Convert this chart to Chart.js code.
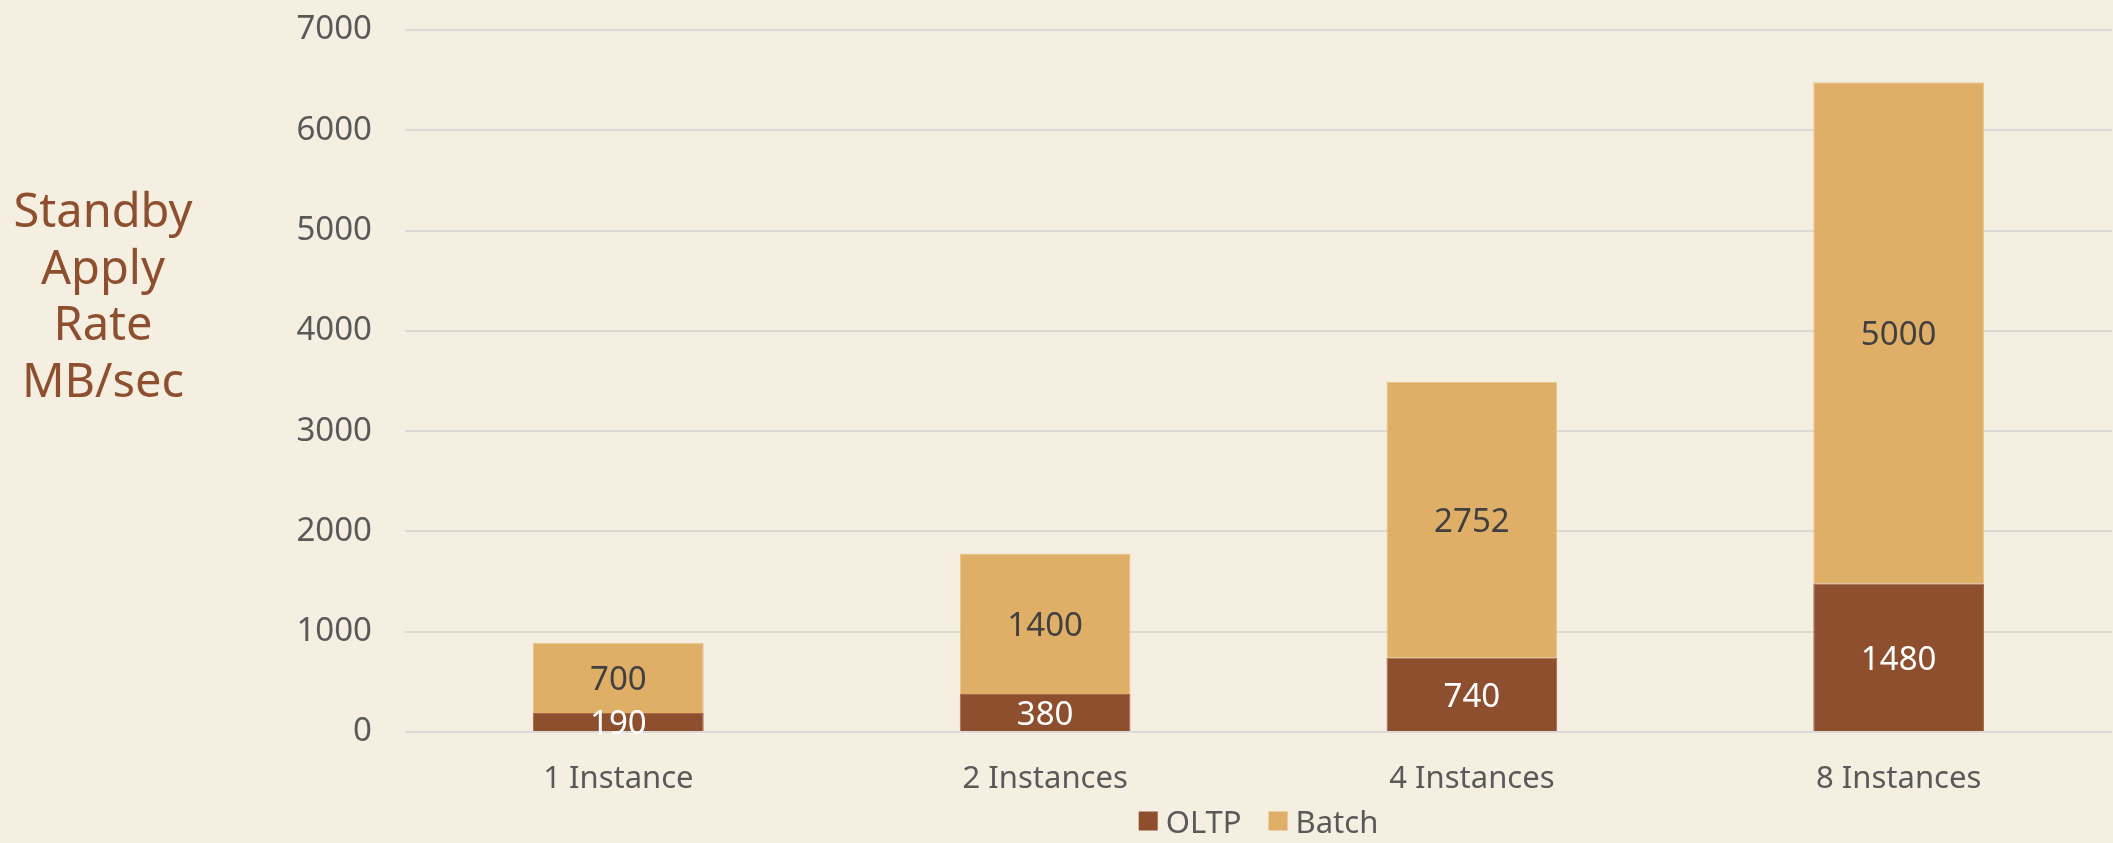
<!DOCTYPE html>
<html>
<head>
<meta charset="utf-8">
<script src="https://cdn.jsdelivr.net/npm/chart.js@4/dist/chart.umd.min.js"></script>
<style>
  html, body { margin: 0; padding: 0; background: #F5EFE2; }
  #wrap { width: 2113px; height: 843px; position: relative; }
</style>
</head>
<body>
<div id="wrap"><canvas id="c" width="2113" height="843"></canvas></div>
<script>
// Standby apply rate per instance count, stacked by workload
const categories = ['1 Instance', '2 Instances', '4 Instances', '8 Instances'];
const oltpValues = [190, 380, 740, 1480];
const batchValues = [700, 1400, 2752, 5000];
const axisTitleLines = ['Standby', 'Apply', 'Rate', 'MB/sec'];
const yMax = 7000;
const yStep = 1000;

const BG = '#F5EFE2';
const OLTP_COLOR = '#8D4F2E';
const BATCH_COLOR = '#DFAF67';
const TEXT_GREY = '#595959';
const FONT = '"Noto Sans", "Open Sans", sans-serif';

// Paints the page colour behind the chart
const backgroundPlugin = {
  id: 'bg',
  beforeDraw(chart) {
    const ctx = chart.ctx;
    ctx.save();
    ctx.fillStyle = BG;
    ctx.fillRect(0, 0, chart.width, chart.height);
    ctx.restore();
  }
};

// Horizontal, multi-line value axis title on the left
const axisTitlePlugin = {
  id: 'axisTitle',
  afterDraw(chart) {
    const ctx = chart.ctx;
    ctx.save();
    ctx.fillStyle = OLTP_COLOR;
    ctx.font = '47px ' + FONT;
    ctx.textAlign = 'center';
    ctx.textBaseline = 'alphabetic';
    const x = 103, firstBaseline = 227, lineGap = 56.7;
    axisTitleLines.forEach((t, i) => ctx.fillText(t, x, firstBaseline + i * lineGap));
    ctx.restore();
  }
};

// Value labels centred inside each stacked segment
const segmentLabelPlugin = {
  id: 'segmentLabels',
  afterDatasetsDraw(chart) {
    const ctx = chart.ctx;
    ctx.save();
    ctx.font = '33px ' + FONT;
    ctx.textAlign = 'center';
    ctx.textBaseline = 'middle';
    chart.data.datasets.forEach((ds, di) => {
      const meta = chart.getDatasetMeta(di);
      if (meta.hidden) return;
      ctx.fillStyle = ds.labelColor;
      meta.data.forEach((bar, i) => {
        const cy = (bar.y + bar.base) / 2;
        ctx.fillText(String(ds.data[i]), bar.x, cy + 3);
      });
    });
    ctx.restore();
  }
};

// Compact legend row under the category labels
const legendRowPlugin = {
  id: 'legendRow',
  afterDraw(chart) {
    const ctx = chart.ctx;
    const box = 19, textGap = 8, itemGap = 27, cy = 821;
    ctx.save();
    ctx.font = '31px ' + FONT;
    ctx.textBaseline = 'middle';
    ctx.textAlign = 'left';
    const items = chart.data.datasets.map(ds => ({
      text: ds.label, color: ds.backgroundColor, w: ctx.measureText(ds.label).width
    }));
    const total = items.reduce((s, it) => s + box + textGap + it.w, 0) + itemGap * (items.length - 1);
    let x = (chart.chartArea.left + chart.chartArea.right) / 2 - total / 2;
    items.forEach(it => {
      ctx.fillStyle = it.color;
      ctx.fillRect(x, cy - box / 2, box, box);
      x += box + textGap;
      ctx.fillStyle = TEXT_GREY;
      ctx.fillText(it.text, x, cy + 3);
      x += it.w + itemGap;
    });
    ctx.restore();
  }
};

new Chart(document.getElementById('c'), {
  type: 'bar',
  data: {
    labels: categories,
    datasets: [
      {
        label: 'OLTP',
        data: oltpValues,
        backgroundColor: OLTP_COLOR,
        borderColor: '#A8694A',
        borderWidth: 1,
        labelColor: '#FFFFFF'
      },
      {
        label: 'Batch',
        data: batchValues,
        backgroundColor: BATCH_COLOR,
        borderColor: '#E8C68E',
        borderWidth: 1,
        labelColor: '#404040'
      }
    ]
  },
  options: {
    responsive: false,
    animation: false,
    devicePixelRatio: 1,
    layout: { padding: { top: 30, right: 1, bottom: 0, left: 0 } },
    datasets: {
      bar: { categoryPercentage: 1.0, barPercentage: 0.4 }
    },
    scales: {
      x: {
        stacked: true,
        afterFit(scale) { scale.height = 111; },
        grid: { display: false, drawTicks: false },
        border: { display: false },
        ticks: {
          color: TEXT_GREY,
          font: { family: FONT, size: 31 },
          padding: 29
        }
      },
      y: {
        stacked: true,
        min: 0,
        max: yMax,
        afterFit(scale) { scale.width = 405; },
        grid: {
          color: '#DCDAD5',
          lineWidth: 2,
          drawTicks: true,
          tickLength: 33,
          tickColor: 'rgba(0,0,0,0)'
        },
        border: { display: false },
        ticks: {
          stepSize: yStep,
          color: TEXT_GREY,
          font: { family: FONT, size: 33 },
          padding: 0,
          callback: v => String(v)
        }
      }
    },
    plugins: {
      legend: { display: false },
      tooltip: { enabled: false }
    }
  },
  plugins: [backgroundPlugin, axisTitlePlugin, segmentLabelPlugin, legendRowPlugin]
});
</script>
</body>
</html>
